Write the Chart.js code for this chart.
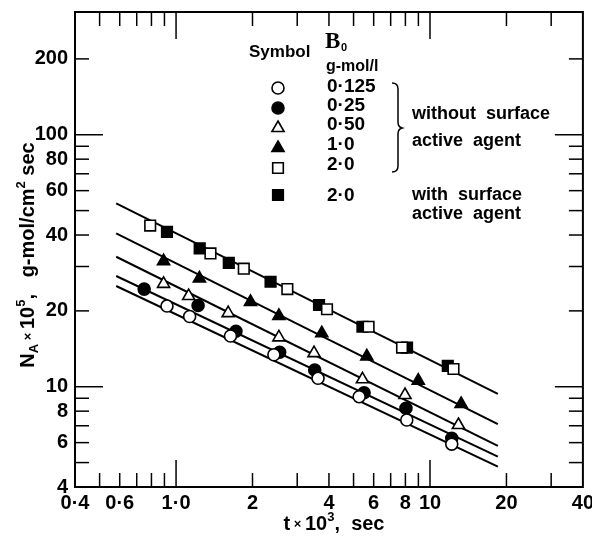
<!DOCTYPE html>
<html><head><meta charset="utf-8">
<script src="https://cdn.jsdelivr.net/npm/chart.js@4.4.1/dist/chart.umd.min.js"></script>
<style>html,body{margin:0;padding:0;background:#fff}#wrap{width:592px;height:541px;position:relative}</style>
</head><body><div id="wrap"><canvas id="c" width="592" height="541"></canvas></div>
<script>
// ---- tick definitions ----
const xTickValues=[0.4,0.6,1,2,4,6,8,10,20,40];
const xTickLabels=['0·4','0·6','1·0','2','4','6','8','10','20','40'];
const yTickValues=[4,6,8,10,20,40,60,80,100,200];
const yTickLabels=['4','6','8','10','20','40','60','80','100','200'];
const xMinorTicks=[0.5,0.6,0.7,0.8,0.9,2,3,4,5,6,7,8,9,20,30];
const xMajorTicks=[1,10];
const yMinorTicks=[5,6,7,8,9,20,30,40,50,60,70,80,90,200];
const yMajorTicks=[10,100];

// ---- data: t x 10^3 (sec) and N_A x 10^5 ----
const seriesB0=['0·125','0·25','0·50','1·0','2·0','2·0'];
const t0125=[0.921,1.131,1.638,2.428,3.623,5.26,8.10,12.18];
const n0125=[20.9,19.0,15.9,13.4,10.8,9.13,7.38,5.92];
const t025=[0.749,1.221,1.721,2.558,3.516,5.50,8.04,12.18];
const n025=[24.4,21.0,16.6,13.7,11.65,9.47,8.21,6.24];
const t050=[0.893,1.121,1.604,2.541,3.494,5.42,7.97,12.94];
const n050=[25.6,22.9,19.6,15.7,13.6,10.7,9.27,7.05];
const t10=[0.893,1.236,1.964,2.541,3.747,5.64,8.99,13.26];
const n10=[31.5,26.9,21.7,19.1,16.3,13.2,10.57,8.54];
const t20=[0.791,1.366,1.848,2.743,3.93,5.73,7.76,12.37];
const n20=[43.6,33.8,29.4,24.4,20.3,17.3,14.3,11.76];
const t20saa=[0.921,1.239,1.613,2.356,3.656,5.42,8.12,11.75];
const n20saa=[41.2,35.4,31.0,26.1,21.1,17.3,14.3,12.1];
// fitted lines (end points)
const fitT=[0.581,18.5];
const fit0125=[25.1,4.82];
const fit025=[27.5,5.28];
const fit050=[32.8,5.82];
const fit10=[40.6,7.11];
const fit20=[53.4,9.36];

const FONT='"Liberation Sans", Arial, sans-serif';
const pts=(t,n)=>t.map((v,i)=>({x:v,y:n[i]}));

function pointDs(label,t,n,style,filled,r){
  return {type:'scatter',label,data:pts(t,n),pointStyle:style,pointRadius:r,pointHoverRadius:r,
    backgroundColor:filled?'#000':'#fff',borderColor:'#000',pointBorderWidth:1.6,borderWidth:1.6,order:0,showLine:false};
}
function lineDs(n){
  return {type:'line',data:pts(fitT,n),borderColor:'#000',borderWidth:2,pointRadius:0,showLine:true,fill:false,order:1,tension:0};
}

function drawRuns(ctx,runs,cx,cy){
  let total=0;
  runs.forEach(r=>{ctx.font=`bold ${r.s}px ${FONT}`;r.w=ctx.measureText(r.t).width;total+=r.w;});
  let x=cx-total/2;
  ctx.textAlign='left';ctx.textBaseline='alphabetic';
  runs.forEach(r=>{ctx.font=`bold ${r.s}px ${FONT}`;ctx.fillText(r.t,x,cy+(r.dy||0));x+=r.w;});
}
function sym(ctx,style,filled,x,y){
  ctx.save();ctx.lineWidth=1.6;ctx.strokeStyle='#000';ctx.fillStyle=filled?'#000':'#fff';
  ctx.beginPath();
  if(style==='circle'){ctx.arc(x,y,6,0,Math.PI*2);}
  else if(style==='triangle'){const r=7;ctx.moveTo(x,y-r);ctx.lineTo(x+r*0.866,y+r/2);ctx.lineTo(x-r*0.866,y+r/2);ctx.closePath();}
  else {const h=5.3;ctx.rect(x-h,y-h,2*h,2*h);}
  ctx.fill();ctx.stroke();ctx.restore();
}

const deco={
  id:'deco',
  afterDraw(chart){
    const {ctx,chartArea:a,scales:{x,y}}=chart;
    ctx.save();
    ctx.strokeStyle='#000';ctx.fillStyle='#000';
    ctx.lineWidth=2;
    ctx.strokeRect(a.left,a.top,a.right-a.left,a.bottom-a.top);
    ctx.lineWidth=1.5;
    const seg=(x1,y1,x2,y2)=>{ctx.beginPath();ctx.moveTo(x1,y1);ctx.lineTo(x2,y2);ctx.stroke();};
    xMinorTicks.forEach(v=>{const p=x.getPixelForValue(v);seg(p,a.bottom,p,a.bottom-14);seg(p,a.top,p,a.top+14);});
    xMajorTicks.forEach(v=>{const p=x.getPixelForValue(v);seg(p,a.bottom,p,a.bottom-27);seg(p,a.top,p,a.top+27);});
    yMinorTicks.forEach(v=>{const p=y.getPixelForValue(v);seg(a.left,p,a.left+14,p);seg(a.right,p,a.right-14,p);});
    yMajorTicks.forEach(v=>{const p=y.getPixelForValue(v);seg(a.left,p,a.left+28,p);seg(a.right,p,a.right-28,p);});

    // x title
    drawRuns(ctx,[{t:'t',s:20},{t:' × ',s:13,dy:-2},{t:'10',s:20},{t:'3',s:13,dy:-9},{t:',  sec',s:20}],334,530);
    // y title (rotated)
    ctx.save();
    ctx.translate(34,255);ctx.rotate(-Math.PI/2);
    drawRuns(ctx,[{t:'N',s:20},{t:'A',s:13,dy:4},{t:' × ',s:13,dy:-2},{t:'10',s:20},{t:'5',s:13,dy:-9},{t:',   g-mol/cm',s:20},{t:'2',s:13,dy:-9},{t:' sec',s:20}],0,0);
    ctx.restore();

    // legend
    ctx.textAlign='left';ctx.textBaseline='middle';
    ctx.font=`bold 17px ${FONT}`;ctx.fillText('Symbol',249,52);
    ctx.font=`bold 23px "Liberation Serif", serif`;ctx.fillText('B',325,42);
    ctx.font=`bold 11px ${FONT}`;ctx.fillText('0',341,48);
    ctx.font=`bold 16px ${FONT}`;ctx.fillText('g-mol/l',326,67);
    const symStyles=[['circle',false],['circle',true],['triangle',false],['triangle',true],['rect',false],['rect',true]];
    const symY=[88,108,128,148,168,195];
    const valY=[87,106,125,145,165,196];
    seriesB0.forEach((lab,i)=>{
      sym(ctx,symStyles[i][0],symStyles[i][1],278,symY[i]);
      ctx.fillStyle='#000';ctx.font=`bold 19px ${FONT}`;ctx.textBaseline='middle';ctx.textAlign='left';
      ctx.fillText(lab,327,valY[i]);
    });
    // brace
    ctx.lineWidth=1.5;ctx.beginPath();
    ctx.moveTo(392,83);ctx.quadraticCurveTo(398,83,398,89);
    ctx.lineTo(398,122);ctx.quadraticCurveTo(398,127,402,128);
    ctx.quadraticCurveTo(398,129,398,134);
    ctx.lineTo(398,166);ctx.quadraticCurveTo(398,172,392,172);
    ctx.stroke();
    ctx.font=`bold 18px ${FONT}`;
    ctx.fillText('without  surface',412,114);
    ctx.fillText('active  agent',412,141);
    ctx.fillText('with  surface',412,195);
    ctx.fillText('active  agent',412,214);
    ctx.restore();
  }
};

new Chart(document.getElementById('c'),{
  type:'scatter',
  data:{datasets:[
    pointDs('0·125',t0125,n0125,'circle',false,6),
    pointDs('0·25',t025,n025,'circle',true,6),
    pointDs('0·50',t050,n050,'triangle',false,7),
    pointDs('1·0',t10,n10,'triangle',true,7),
    pointDs('2·0',t20,n20,'rect',false,7.5),
    pointDs('2·0 SAA',t20saa,n20saa,'rect',true,7.5),
    lineDs(fit0125),lineDs(fit025),lineDs(fit050),lineDs(fit10),lineDs(fit20)
  ]},
  options:{
    responsive:false,animation:false,devicePixelRatio:1,
    layout:{padding:{top:12,right:9,left:0,bottom:0}},
    plugins:{legend:{display:false},tooltip:{enabled:false}},
    scales:{
      x:{type:'logarithmic',min:0.4,max:40,position:'bottom',
        grid:{display:false,drawTicks:false},border:{display:false},
        ticks:{autoSkip:false,maxRotation:0,minRotation:0,padding:4,color:'#000',font:{family:FONT,size:20,weight:'bold'},
          callback:(v,i)=>xTickLabels[i]},
        afterBuildTicks:s=>{s.ticks=xTickValues.map(v=>({value:v}));},
        afterFit:s=>{s.height=54;s.paddingLeft=0;s.paddingRight=0;}},
      y:{type:'logarithmic',min:4,max:307,position:'left',
        grid:{display:false,drawTicks:false},border:{display:false},
        ticks:{autoSkip:false,padding:7,color:'#000',font:{family:FONT,size:20,weight:'bold'},
          callback:(v,i)=>yTickLabels[i]},
        afterBuildTicks:s=>{s.ticks=yTickValues.map(v=>({value:v}));},
        afterFit:s=>{s.width=75;s.paddingTop=0;s.paddingBottom=0;}}
    }
  },
  plugins:[deco]
});
</script></body></html>
